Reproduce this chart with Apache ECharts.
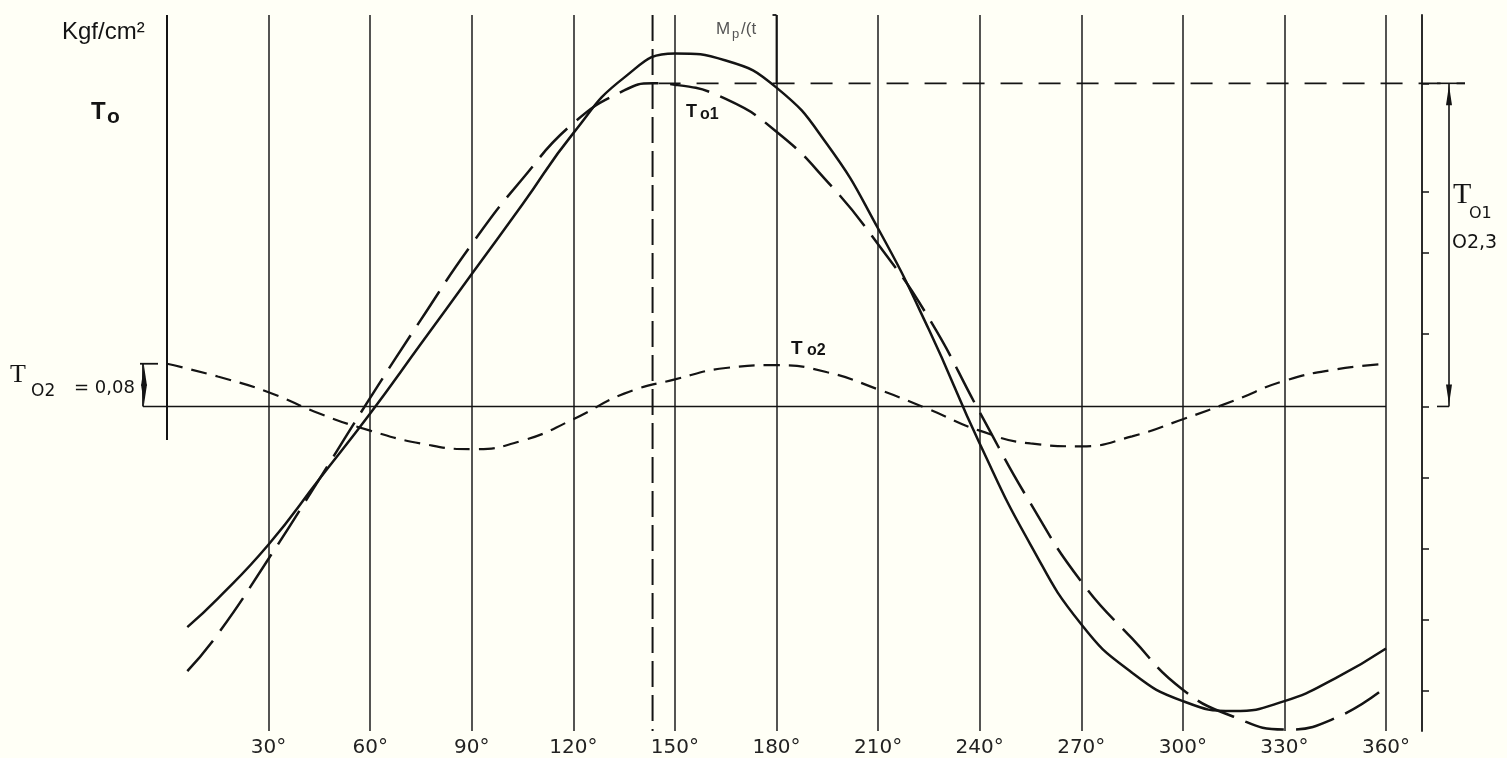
<!DOCTYPE html>
<html>
<head>
<meta charset="utf-8">
<title>T0 = T01 + T02</title>
<script src="https://cdn.jsdelivr.net/npm/echarts/dist/echarts.min.js"></script>
<style>
  html, body { margin: 0; padding: 0; background: #fffff6; }
  #chart { width: 1507px; height: 758px; }
</style>
</head>
<body>
<div id="chart"></div>
<script>
// values: angle in degrees, stress in Kgf/cm2
// T0 (solid) = T01 (long dash) + T02 (short dash)
const anglesT0 = [6, 15, 30, 45, 60, 75, 90, 105, 120, 135, 150, 165, 180, 195, 210, 225, 240, 255, 270, 285, 300, 315, 330, 345, 360];
const valuesT0 = [-0.155, -0.135, -0.097, -0.051, -0.005, 0.044, 0.093, 0.142, 0.192, 0.231, 0.248, 0.243, 0.224, 0.184, 0.125, 0.054, -0.026, -0.097, -0.153, -0.187, -0.207, -0.214, -0.207, -0.191, -0.170];

const anglesT01 = [6, 15, 30, 45, 60, 75, 90, 105, 120, 135, 143.5, 150, 165, 180, 195, 210, 225, 240, 255, 270, 285, 300, 315, 330, 345, 360];
const valuesT01 = [-0.186, -0.160, -0.107, -0.051, 0.006, 0.061, 0.114, 0.160, 0.199, 0.222, 0.227, 0.226, 0.216, 0.193, 0.158, 0.114, 0.062, -0.004, -0.068, -0.123, -0.163, -0.199, -0.218, -0.227, -0.219, -0.197];

const anglesT02 = [0, 15, 30, 45, 60, 75, 90, 105, 120, 135, 150, 165, 180, 195, 210, 225, 240, 255, 270, 285, 300, 315, 330, 345, 360];
const valuesT02 = [0.030, 0.021, 0.010, -0.005, -0.017, -0.026, -0.030, -0.024, -0.009, 0.009, 0.019, 0.027, 0.029, 0.024, 0.012, -0.002, -0.017, -0.026, -0.028, -0.021, -0.009, 0.004, 0.018, 0.026, 0.030];

// tick marks on the right-hand scale
const rightTicks = [-0.2, -0.15, -0.1, -0.05, 0, 0.051, 0.108, 0.151, 0.227];

// annotation values
const peakAngleT01 = 143.4;  // dashed vertical through T01 maximum
const peakT01 = 0.227;        // T01 amplitude
const ampT02 = 0.030;         // T02 amplitude (drawn bracket)
const mpAngle = 180;          // Mp/t bracket position
const leftAxisEnd = -0.0235;  // lower end of the 0 deg line
const yMin = -0.228, yMax = 0.275;

const chart = echarts.init(document.getElementById('chart'));

function pairs(xs, ys) {
  return xs.map((x, i) => [x, ys[i]]);
}

const ink = '#141414';

const option = {
  backgroundColor: '#fffff6',
  animation: false,
  grid: { left: 167, right: 121, top: 15, bottom: 25 },
  xAxis: {
    type: 'value',
    min: 0,
    max: 360,
    interval: 30,
    axisLine: { show: false },
    axisTick: { show: false },
    splitLine: {
      show: true,
      showMinLine: false,
      lineStyle: { color: '#2a2a2a', width: 1.6 }
    },
    axisLabel: {
      margin: 7,
      color: '#222',
      fontFamily: 'DejaVu Sans',
      fontSize: 20,
      formatter: v => (v === 0 ? '' : v + '°')
    }
  },
  yAxis: [
    { type: 'value', min: yMin, max: yMax, show: false },
    {
      type: 'value',
      min: yMin,
      max: yMax,
      position: 'right',
      offset: 36,
      axisLine: { show: true, lineStyle: { color: ink, width: 1.8 } },
      axisTick: {
        show: true,
        customValues: rightTicks,
        length: 7,
        lineStyle: { color: ink, width: 1.5 }
      },
      axisLabel: { show: false },
      splitLine: { show: false }
    }
  ],
  series: [
    {
      name: 'T0',
      type: 'line',
      data: pairs(anglesT0, valuesT0),
      smooth: true,
      symbol: 'none',
      lineStyle: { color: ink, width: 2.5 }
    },
    {
      name: 'T01',
      type: 'line',
      data: pairs(anglesT01, valuesT01),
      smooth: true,
      symbol: 'none',
      lineStyle: { color: ink, width: 2.5, type: [40, 12] }
    },
    {
      name: 'T02',
      type: 'line',
      data: pairs(anglesT02, valuesT02),
      smooth: true,
      symbol: 'none',
      lineStyle: { color: ink, width: 2.2, type: [16, 9] }
    }
  ]
};

chart.setOption(option);

// annotations placed through the chart's own scales
function px(a) { return chart.convertToPixel({ xAxisIndex: 0 }, a); }
function py(v) { return chart.convertToPixel({ yAxisIndex: 0 }, v); }

function seg(x1, y1, x2, y2, w, dash) {
  return {
    type: 'line', silent: true,
    shape: { x1, y1, x2, y2 },
    style: { stroke: ink, lineWidth: w || 1.6, lineDash: dash || null }
  };
}
function arrow(x, y, dir) {
  // dir = -1 points up, 1 points down
  return {
    type: 'polygon', silent: true,
    shape: { points: [[x, y], [x - 3, y - dir * 20], [x + 3, y - dir * 20]] },
    style: { fill: ink }
  };
}
function txt(x, y, s, font, color) {
  return {
    type: 'text', silent: true, x, y,
    style: { text: s, font, fill: color || ink, verticalAlign: 'top' }
  };
}

const x0 = px(0), x360 = px(360);
const yTop = py(yMax), yBot = py(yMin), yZero = py(0);
const yPeak = py(peakT01), yT02 = py(ampT02);
const axisX = x360 + 36;
const dimX = axisX + 27;
const xDash = px(peakAngleT01);
const xMp = px(mpAngle);
const bx = 143;

const graphics = [
  // 0 deg line and zero line
  seg(x0, yTop, x0, py(leftAxisEnd), 2),
  seg(bx, yZero, x360, yZero, 1.5),
  // dashed vertical through T01 maximum
  seg(xDash, yTop, xDash, yBot, 2, [26, 8]),
  // dashed horizontal at T01 maximum
  seg(xDash + 6, yPeak, dimX + 16, yPeak, 1.6, [22, 16]),
  // Mp/t bracket
  seg(xMp, yTop, xMp, yPeak, 1.8),
  seg(xMp - 4, yTop, xMp, yTop, 1.8),
  // T01 dimension on the right
  seg(dimX, yPeak, dimX, yZero, 1.6),
  seg(dimX - 12, yPeak, dimX + 16, yPeak, 1.6),
  seg(dimX - 12, yZero, dimX, yZero, 1.6),
  arrow(dimX, yPeak + 2, -1),
  arrow(dimX, yZero - 2, 1),
  // T02 bracket on the left
  seg(bx, yT02, bx, yZero, 1.8),
  seg(bx - 3, yT02, bx + 15, yT02, 1.8),
  arrow(bx + 1, yT02 + 2, -1),
  arrow(bx + 1, yZero - 2, 1),
  // texts
  txt(62, 20, 'Kgf/cm²', '24px "Liberation Sans"'),
  txt(91, 100, 'T', 'bold 24px "Liberation Sans"'),
  txt(107, 107, 'o', 'bold 21px "Liberation Sans"'),
  txt(686, 103, 'T', 'bold 18px "Liberation Sans"'),
  txt(700, 107, 'o1', 'bold 16px "Liberation Sans"'),
  txt(791, 339, 'T', 'bold 19px "Liberation Sans"'),
  txt(807, 343, 'o2', 'bold 16px "Liberation Sans"'),
  txt(716, 21, 'M', '17px "Liberation Sans"', '#555'),
  txt(732, 28, 'p', '13px "Liberation Sans"', '#555'),
  txt(741, 21, '/(t', '17px "Liberation Sans"', '#555'),
  txt(10, 362, 'T', '26px "Liberation Serif"'),
  txt(31, 383, 'O2', '17px "DejaVu Sans"'),
  txt(74, 379, '= 0,08', '18px "DejaVu Sans"'),
  txt(1453, 180, 'T', '30px "Liberation Serif"'),
  txt(1469, 206, 'O1', '16px "DejaVu Sans"'),
  txt(1452, 234, 'O2,3', '19px "DejaVu Sans"')
];

chart.setOption({ graphic: graphics });
</script>
</body>
</html>
